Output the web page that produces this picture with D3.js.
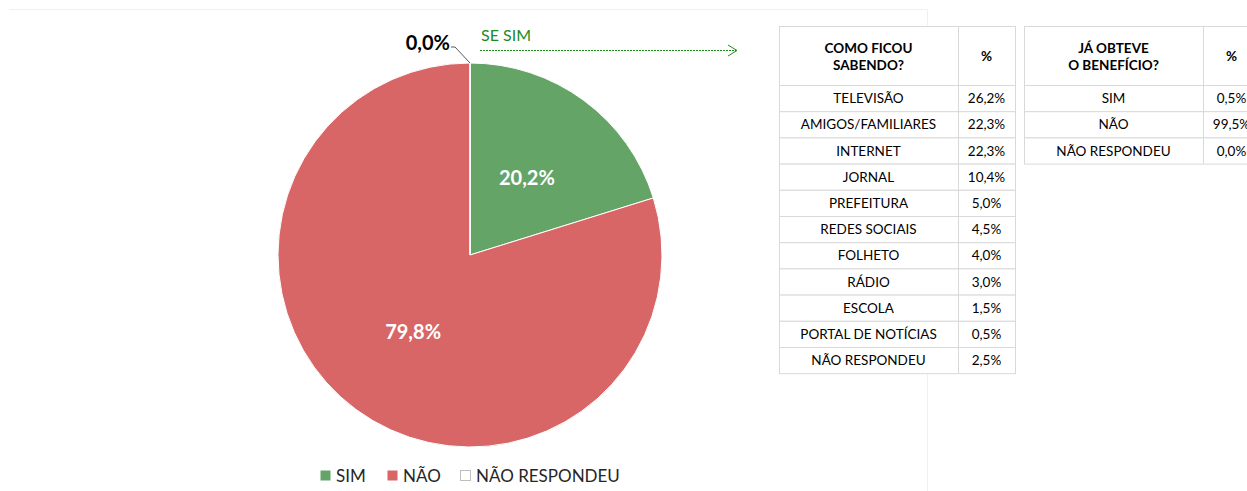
<!DOCTYPE html>
<html>
<head>
<meta charset="utf-8">
<script src="https://cdn.jsdelivr.net/npm/d3@7"></script>
<style>
  body { margin: 0; background: #fff; font-family: Lato, "Open Sans", sans-serif; }
</style>
</head>
<body>
<svg id="chart" width="1247" height="491"></svg>
<script>
// pie data
const pieLabels = ["SIM", "NÃO", "NÃO RESPONDEU"];
const pieValues = [20.2, 79.8, 0.0];
const pieColors = ["#65a467", "#d96666", "#ffffff"];

// table 1
const comoLabels = ["TELEVISÃO", "AMIGOS/FAMILIARES", "INTERNET", "JORNAL", "PREFEITURA",
  "REDES SOCIAIS", "FOLHETO", "RÁDIO", "ESCOLA", "PORTAL DE NOTÍCIAS", "NÃO RESPONDEU"];
const comoValues = [26.2, 22.3, 22.3, 10.4, 5.0, 4.5, 4.0, 3.0, 1.5, 0.5, 2.5];

// table 2
const beneficioLabels = ["SIM", "NÃO", "NÃO RESPONDEU"];
const beneficioValues = [0.5, 99.5, 0.0];

const fmt = v => d3.format(".1f")(v).replace(".", ",") + "%";

const svg = d3.select("#chart");

// faint chart area border
svg.append("path")
  .attr("d", "M9.5,9.5 H927.5 V491")
  .attr("fill", "none")
  .attr("stroke", "#f0f0f0")
  .attr("stroke-width", 1);

const cx = 470, cy = 255, r = 192;
const g = svg.append("g").attr("transform", `translate(${cx},${cy})`);

const pie = d3.pie().sort(null).value(d => d)(pieValues);
const arc = d3.arc().innerRadius(0).outerRadius(r);
const labelArc = d3.arc().innerRadius(r * 0.5).outerRadius(r * 0.5);

g.selectAll("path.slice")
  .data(pie)
  .join("path")
  .attr("class", "slice")
  .attr("d", arc)
  .attr("fill", (d, i) => pieColors[i])
  .attr("stroke", "#fff")
  .attr("stroke-width", 1);

// inside labels for the two big slices
g.selectAll("text.inlabel")
  .data(pie.filter(d => d.data > 0))
  .join("text")
  .attr("class", "inlabel")
  .attr("x", d => labelArc.centroid(d)[0])
  .attr("y", d => labelArc.centroid(d)[1])
  .attr("dy", "0.35em")
  .attr("text-anchor", "middle")
  .attr("fill", "#fff")
  .attr("font-weight", "bold")
  .attr("font-size", 20)
  .text(d => fmt(d.data));

// outside label for the empty slice with a leader line
const zero = pie[2];
const zx = r * Math.sin(zero.startAngle), zy = -r * Math.cos(zero.startAngle);
g.append("path")
  .attr("d", `M${zx},${zy} L${zx - 15},${zy - 16} H${zx - 19}`)
  .attr("fill", "none")
  .attr("stroke", "#595959")
  .attr("stroke-width", 1);
g.append("text")
  .attr("x", zx - 20)
  .attr("y", zy - 13)
  .attr("text-anchor", "end")
  .attr("font-weight", "bold")
  .attr("font-size", 20)
  .attr("fill", "#000")
  .text(fmt(zero.data));

// "SE SIM" annotation with dotted arrow
svg.append("text")
  .attr("x", 481).attr("y", 41)
  .attr("font-size", 16)
  .attr("fill", "#1e8a1e")
  .text("SE SIM");
svg.append("line")
  .attr("x1", 480).attr("y1", 50.5).attr("x2", 736).attr("y2", 50.5)
  .attr("stroke", "#1e8a1e").attr("stroke-width", 1)
  .attr("stroke-dasharray", "2,1");
svg.append("path")
  .attr("d", "M728,45 L737,50.5 L728,56")
  .attr("fill", "none").attr("stroke", "#1e8a1e").attr("stroke-width", 1);

// legend
const legendX = [320, 387, 460];
const legend = svg.append("g");
pieLabels.forEach((lab, i) => {
  legend.append("rect")
    .attr("x", legendX[i] + 0.5).attr("y", 470.5)
    .attr("width", 10).attr("height", 10)
    .attr("fill", pieColors[i])
    .attr("stroke", i === 2 ? "#bfbfbf" : "none");
  legend.append("text")
    .attr("x", legendX[i] + 16).attr("y", 482)
    .attr("font-size", 17)
    .attr("fill", "#262626")
    .text(lab);
});

// tables
function drawTable(x, y, colW, headerLines, labels, values) {
  const headH = 59, rowH = 26.2;
  const t = svg.append("g").attr("transform", `translate(${x},${y})`);
  const w = colW[0] + colW[1];
  const yScale = d3.scaleLinear().domain([0, labels.length]).range([headH, headH + rowH * labels.length]);

  // header
  t.append("rect").attr("x", 0.5).attr("y", 0.5).attr("width", w).attr("height", headH)
    .attr("fill", "#fff").attr("stroke", "#d9d9d9");
  const ht = t.append("text")
    .attr("x", colW[0] / 2).attr("y", headH / 2 - (headerLines.length - 1) * 8 + 5)
    .attr("text-anchor", "middle").attr("font-weight", "bold").attr("font-size", 13.5).attr("fill", "#000");
  headerLines.forEach((l, i) => ht.append("tspan").attr("x", colW[0] / 2).attr("dy", i ? 17 : 0).text(l));
  t.append("text").attr("x", colW[0] + colW[1] / 2).attr("y", headH / 2 + 5)
    .attr("text-anchor", "middle").attr("font-weight", "bold").attr("font-size", 13.5).text("%");

  labels.forEach((lab, i) => {
    const y0 = yScale(i);
    t.append("rect").attr("x", 0.5).attr("y", y0 + 0.5).attr("width", w).attr("height", rowH)
      .attr("fill", "#fff").attr("stroke", "#d9d9d9");
    t.append("text").attr("x", colW[0] / 2).attr("y", y0 + rowH / 2 + 5)
      .attr("text-anchor", "middle").attr("font-size", 13.5).attr("fill", "#000").text(lab);
    t.append("text").attr("x", colW[0] + colW[1] / 2).attr("y", y0 + rowH / 2 + 5)
      .attr("text-anchor", "middle").attr("font-size", 13.5).attr("fill", "#000").text(fmt(values[i]));
  });
  t.append("line").attr("x1", colW[0] + 0.5).attr("x2", colW[0] + 0.5)
    .attr("y1", 0).attr("y2", yScale(labels.length)).attr("stroke", "#d9d9d9");
}

drawTable(779, 26, [179, 57], ["COMO FICOU", "SABENDO?"], comoLabels, comoValues);
drawTable(1024, 26, [179, 57], ["JÁ OBTEVE", "O BENEFÍCIO?"], beneficioLabels, beneficioValues);
</script>
</body>
</html>
